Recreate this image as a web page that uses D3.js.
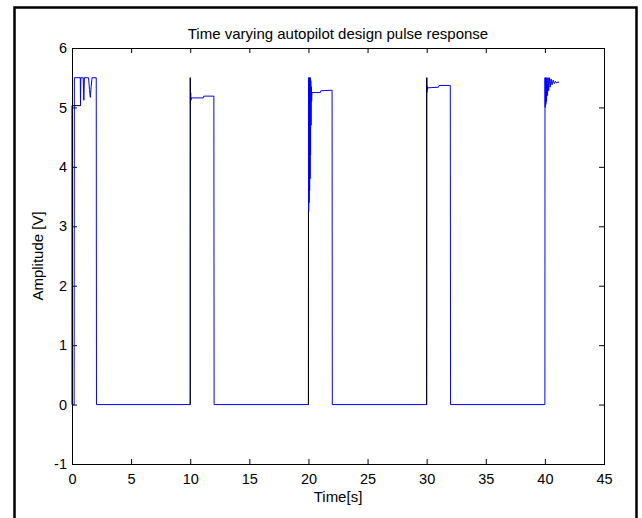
<!DOCTYPE html>
<html>
<head>
<meta charset="utf-8">
<script src="https://cdn.jsdelivr.net/npm/d3@7"></script>
<style>
  body { margin: 0; background: #fff; }
  text { font-family: "Liberation Sans", Arial, sans-serif; }
</style>
</head>
<body>
<svg id="chart"></svg>
<script>
// tick values
const xTicks = [0, 5, 10, 15, 20, 25, 30, 35, 40, 45];
const yTicks = [-1, 0, 1, 2, 3, 4, 5, 6];

// blue response trace
const responseTime = [
  0, 0.18, 0.2, 0.7, 0.72, 0.75, 0.95, 1.0, 1.05, 1.4, 1.48, 1.55, 1.62, 1.7, 2.05, 2.07,
  10.0, 10.01, 10.02, 10.04, 10.06, 10.09, 11.1, 11.15, 12.0, 12.02,
  20.0, 20.01, 20.02, 20.04, 20.06, 20.08, 20.1, 20.12, 20.14, 20.16, 20.18, 20.2, 20.22, 20.24, 20.27, 20.3,
  21.0, 21.05, 22.0, 22.02,
  30.0, 30.01, 30.02, 30.04, 30.06, 30.1, 31.0, 31.05, 32.0, 32.02,
  40.0, 40.01, 40.03, 40.05, 40.08, 40.11, 40.14, 40.18, 40.22, 40.27, 40.32, 40.38,
  40.45, 40.52, 40.6, 40.7, 40.8, 40.9, 41.0, 41.1, 41.2
];
const responseAmp = [
  0, 0, 5.5, 5.5, 5.03, 5.5, 5.5, 5.12, 5.5, 5.5, 5.3, 5.17, 5.35, 5.5, 5.5, 0,
  0, 5.5, 5.05, 5.25, 5.12, 5.16, 5.16, 5.19, 5.19, 0,
  0, 5.5, 3.25, 5.5, 3.4, 5.5, 3.6, 5.5, 3.8, 5.5, 4.2, 5.45, 4.7, 5.35, 5.1, 5.25,
  5.25, 5.28, 5.29, 0,
  0, 5.5, 5.25, 5.36, 5.3, 5.33, 5.34, 5.37, 5.37, 0,
  0, 5.5, 5.0, 5.5, 5.05, 5.5, 5.1, 5.5, 5.2, 5.5, 5.28, 5.5,
  5.34, 5.48, 5.38, 5.46, 5.4, 5.44, 5.41, 5.43, 5.42
];

// black segments (null separates pieces)
const blackTime = [0, 0, 0.72, null, 10, 10, null, 20, 20, null, 30, 30];
const blackAmp  = [0, 5.03, 5.03, null, 0, 5.5, null, 0, 3.25, null, 0, 5.5];

const W = 642, H = 518;
const box = { left: 72, right: 604, top: 48, bottom: 464 };

const svg = d3.select("#chart").attr("width", W).attr("height", H);

// outer frame
svg.append("rect")
  .attr("x", 14.5).attr("y", 7.5)
  .attr("width", 622).attr("height", 520)
  .attr("fill", "none").attr("stroke", "#000").attr("stroke-width", 2.5);

const x = d3.scaleLinear().domain([0, 45]).range([box.left, box.right]);
const y = d3.scaleLinear().domain([-1, 6]).range([box.bottom, box.top]);
const plain = d => String(d);

function styleAxis(g, labels) {
  g.select(".domain").remove();
  g.selectAll(".tick line").attr("stroke", "#000");
  if (!labels) g.selectAll(".tick text").remove();
  else g.selectAll(".tick text").attr("fill", "#000").style("font-size", "14.5px");
}

svg.append("g")
  .attr("transform", `translate(0,${box.bottom})`)
  .call(d3.axisBottom(x).tickValues(xTicks).tickFormat(plain).tickSizeInner(-5).tickSizeOuter(0).tickPadding(10))
  .call(g => styleAxis(g, true));
svg.append("g")
  .attr("transform", `translate(0,${box.top})`)
  .call(d3.axisTop(x).tickValues(xTicks).tickSizeInner(-5).tickSizeOuter(0))
  .call(g => styleAxis(g, false));
svg.append("g")
  .attr("transform", `translate(${box.left},0)`)
  .call(d3.axisLeft(y).tickValues(yTicks).tickFormat(plain).tickSizeInner(-5).tickSizeOuter(0).tickPadding(5))
  .call(g => styleAxis(g, true));
svg.append("g")
  .attr("transform", `translate(${box.right},0)`)
  .call(d3.axisRight(y).tickValues(yTicks).tickSizeInner(-5).tickSizeOuter(0))
  .call(g => styleAxis(g, false));

// plot box
svg.append("rect")
  .attr("x", box.left + 0.5).attr("y", box.top + 0.5)
  .attr("width", box.right - box.left).attr("height", box.bottom - box.top)
  .attr("fill", "none").attr("stroke", "#000").attr("stroke-width", 1);

const response = responseTime.map((t, i) => [t, responseAmp[i]]);
const black = blackTime.map((t, i) => [t, blackAmp[i]]);

const line = d3.line()
  .defined(d => d[0] !== null)
  .x(d => x(d[0]))
  .y(d => y(d[1]));

svg.append("path")
  .datum(response)
  .attr("fill", "none")
  .attr("stroke", "#0000ff")
  .attr("stroke-width", 1)
  .attr("d", line);

svg.append("path")
  .datum(black)
  .attr("fill", "none")
  .attr("stroke", "#000")
  .attr("stroke-width", 1)
  .attr("d", line);

// title and axis labels
svg.append("text")
  .attr("x", (box.left + box.right) / 2)
  .attr("y", 39)
  .attr("text-anchor", "middle")
  .style("font-size", "15px")
  .text("Time varying autopilot design pulse response");

svg.append("text")
  .attr("x", (box.left + box.right) / 2)
  .attr("y", 502)
  .attr("text-anchor", "middle")
  .style("font-size", "15px")
  .text("Time[s]");

svg.append("text")
  .attr("transform", `translate(43,${(box.top + box.bottom) / 2}) rotate(-90)`)
  .attr("text-anchor", "middle")
  .style("font-size", "15px")
  .text("Amplitude [V]");
</script>
</body>
</html>
